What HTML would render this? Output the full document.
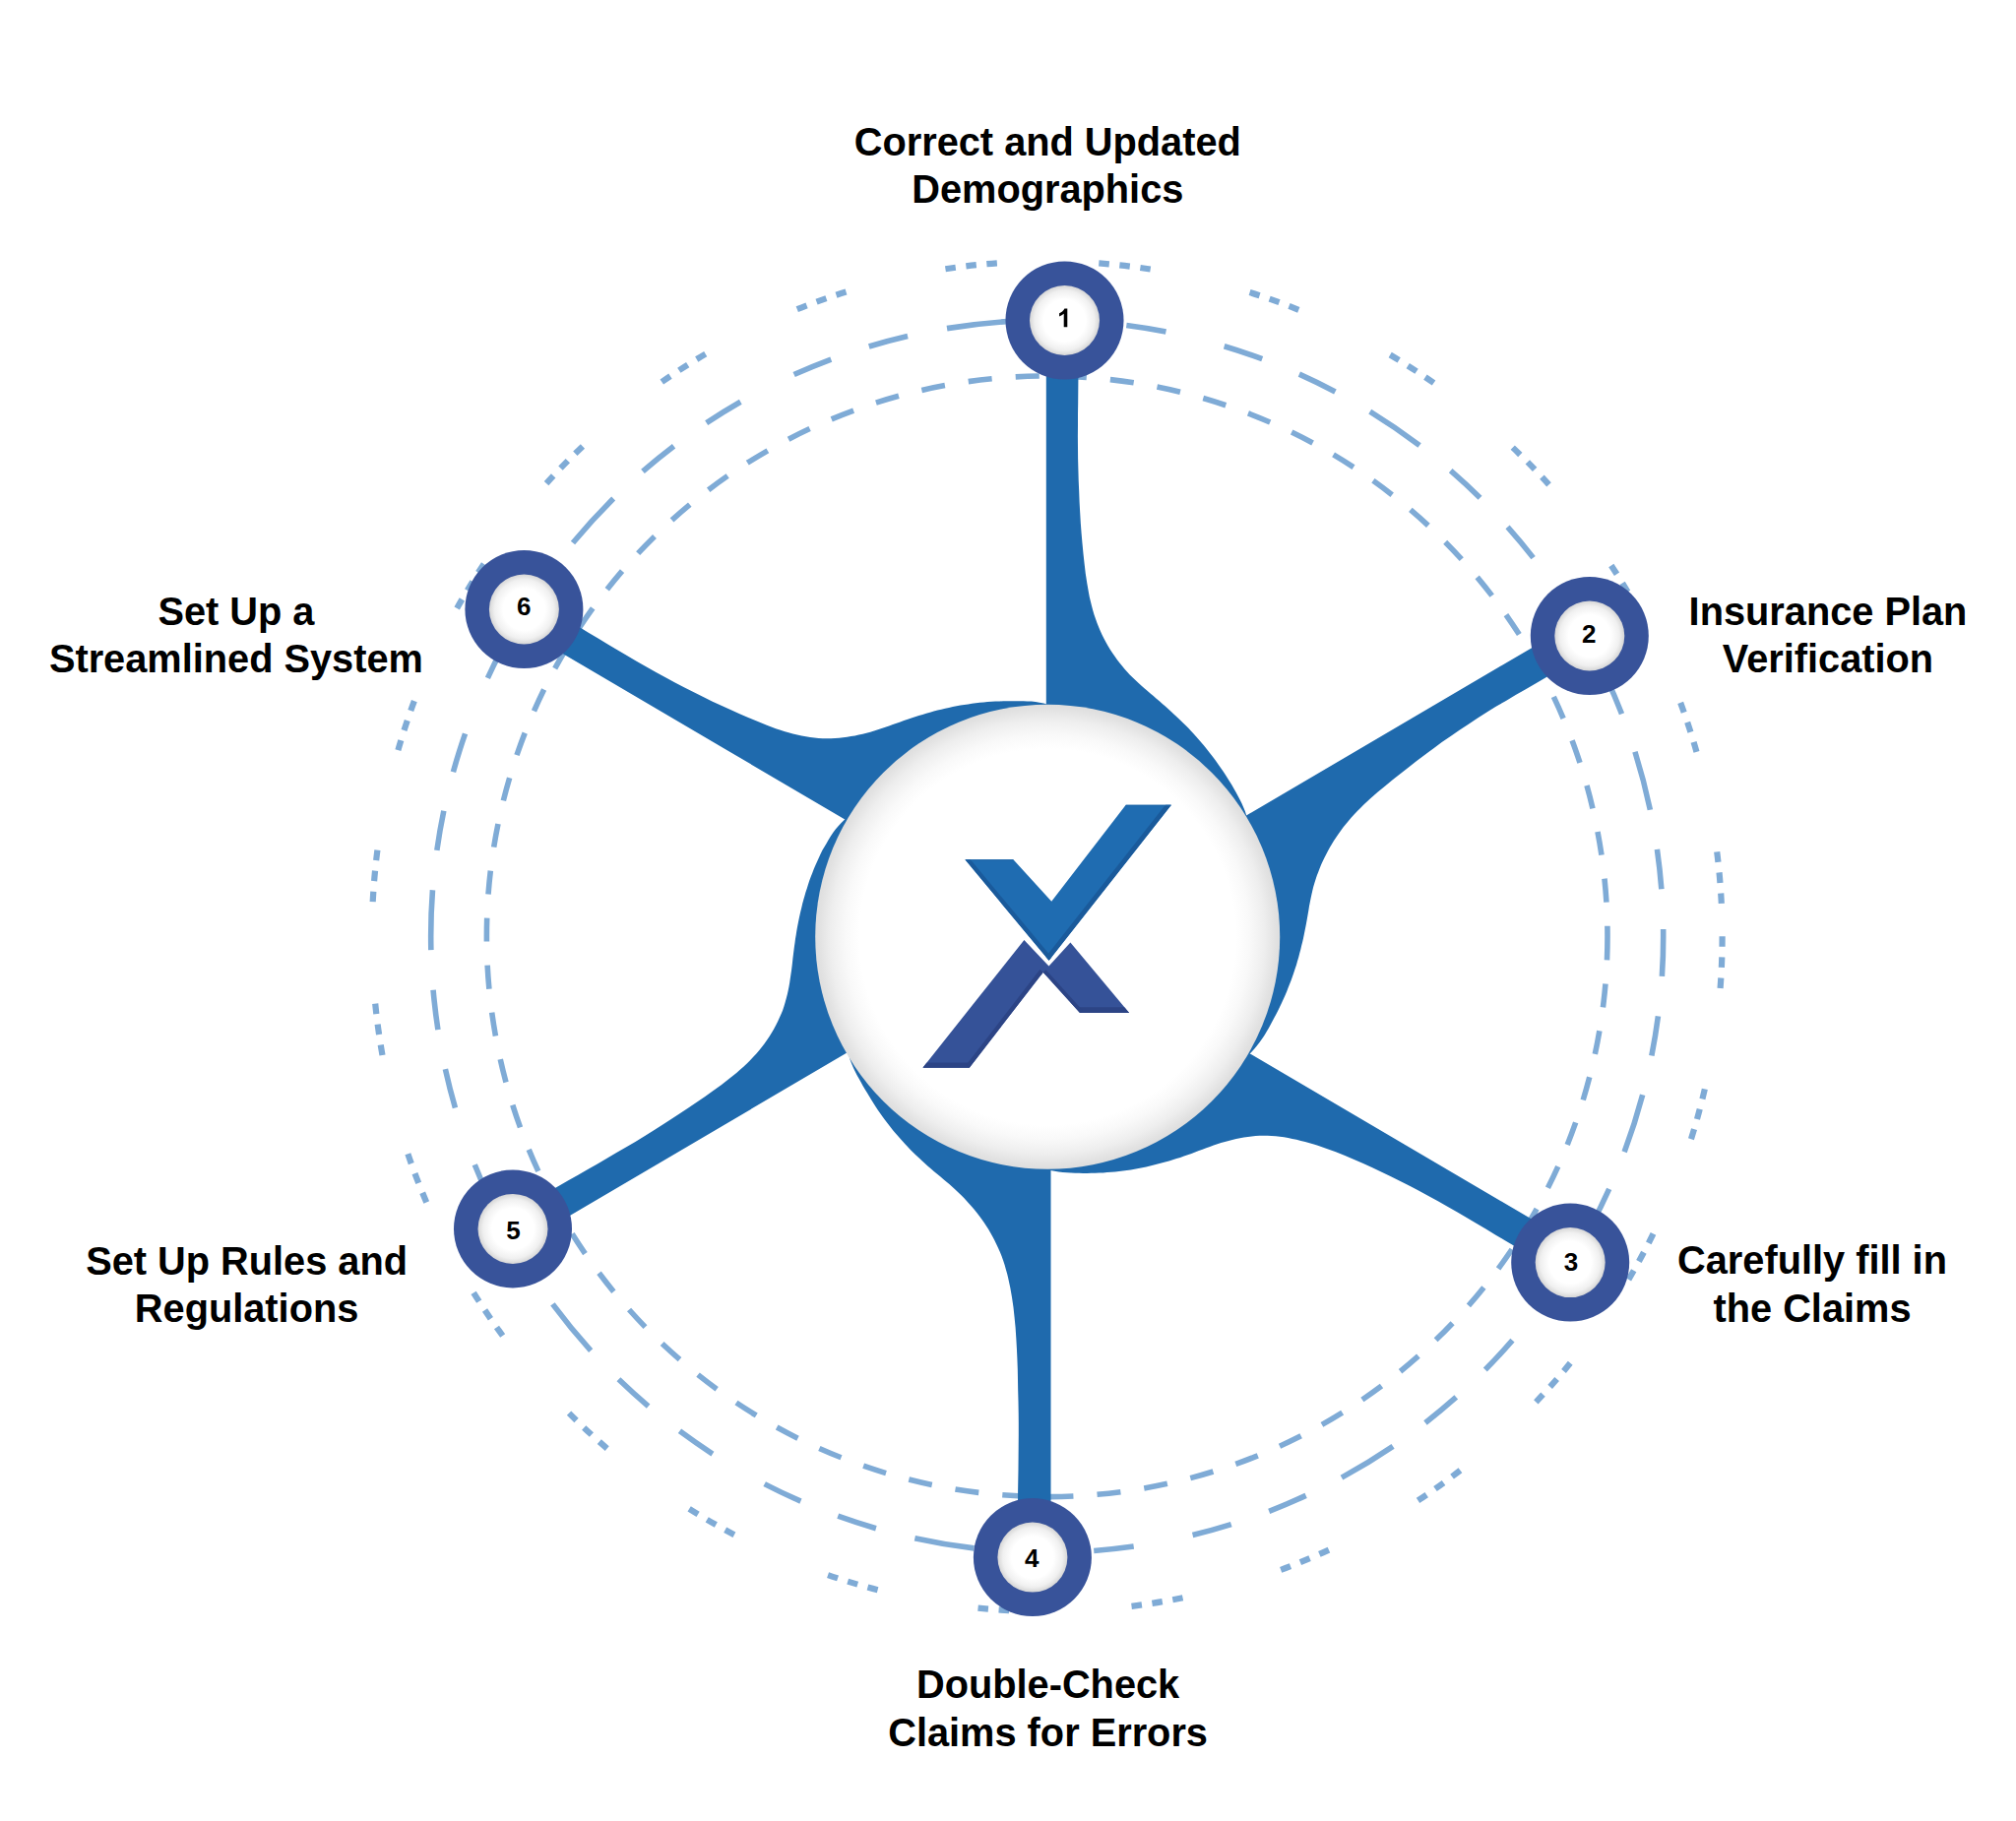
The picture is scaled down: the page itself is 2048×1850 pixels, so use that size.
<!DOCTYPE html>
<html><head><meta charset="utf-8"><title>Diagram</title>
<style>html,body{margin:0;padding:0;background:#fff;}body{width:2048px;height:1850px;overflow:hidden;font-family:"Liberation Sans",sans-serif;}svg{display:block}</style>
</head><body>
<svg width="2048" height="1850" viewBox="0 0 2048 1850">
<defs>
<radialGradient id="gc" cx="50%" cy="50%" r="50%">
<stop offset="0" stop-color="#fff"/><stop offset="0.81" stop-color="#fff"/><stop offset="0.87" stop-color="#f9f9f9"/><stop offset="0.935" stop-color="#eeeeee"/><stop offset="0.98" stop-color="#e2e2e2"/><stop offset="1" stop-color="#dedede"/>
</radialGradient>
<radialGradient id="gn" cx="50%" cy="50%" r="50%">
<stop offset="0" stop-color="#fff"/><stop offset="0.6" stop-color="#fff"/><stop offset="0.85" stop-color="#f0f0f0"/><stop offset="1" stop-color="#d6d6d6"/>
</radialGradient>
</defs>
<rect width="2048" height="1850" fill="#fff"/>
<circle cx="1063.7" cy="951.3" r="569.3" fill="none" stroke="#7fabd6" stroke-width="5.6" stroke-dasharray="24.05 24.14"/>
<circle cx="1063.7" cy="951.3" r="626.0" fill="none" stroke="#7fabd6" stroke-width="5.6" stroke-dasharray="40.68 40.68 40.68 40.68 61.01 40.68 40.68 40.68 40.68 61.01"/>
<circle cx="1063.7" cy="951.3" r="685.9" fill="none" stroke="#7fabd6" stroke-width="6.2" stroke-dasharray="10.5 10.63 10.5 10.63 10.5 103.65"/>
<path d="M1063.9,950.6 L1062.8,889.6 L1062.8,340.1 L1095.8,340.1 L1095.8,351.5 L1095.7,363.0 L1095.6,374.5 L1095.4,386.0 L1095.3,397.5 L1095.2,409.1 L1095.0,420.6 L1095.0,432.1 L1094.9,443.5 L1095.0,454.8 L1095.1,466.1 L1095.4,477.2 L1095.7,488.2 L1096.2,499.2 L1096.6,510.0 L1097.2,520.7 L1097.8,531.2 L1098.6,541.7 L1099.5,552.1 L1100.5,562.4 L1101.6,572.6 L1102.8,582.7 L1104.3,592.6 L1106.0,602.2 L1106.8,606.4 L1107.9,611.1 L1109.0,615.6 L1110.2,620.1 L1111.5,624.5 L1113.0,628.8 L1114.5,633.0 L1116.1,637.1 L1117.8,641.1 L1119.6,645.0 L1121.5,648.8 L1123.5,652.5 L1125.6,656.2 L1127.7,659.7 L1130.0,663.2 L1132.3,666.6 L1134.7,669.9 L1137.2,673.2 L1139.7,676.3 L1142.3,679.4 L1145.0,682.5 L1147.7,685.4 L1150.6,688.3 L1153.5,691.1 L1156.4,693.8 L1159.4,696.5 L1162.5,699.2 L1165.5,701.8 L1168.6,704.4 L1171.7,707.0 L1174.7,709.7 L1177.8,712.3 L1180.8,714.9 L1183.8,717.6 L1186.8,720.3 L1189.8,722.9 L1192.7,725.7 L1195.7,728.4 L1198.6,731.2 L1201.4,733.9 L1204.3,736.8 L1207.1,739.6 L1209.8,742.5 L1212.6,745.5 L1215.3,748.4 L1217.9,751.4 L1220.5,754.5 L1223.1,757.6 L1225.7,760.7 L1228.2,763.9 L1230.6,767.1 L1233.1,770.3 L1235.5,773.6 L1237.9,776.9 L1240.2,780.2 L1242.5,783.6 L1244.8,787.1 L1247.0,790.5 L1249.2,794.0 L1251.4,797.6 L1253.5,801.2 L1255.5,804.8 L1257.5,808.5 L1259.5,812.3 L1261.4,816.1 L1263.1,820.0 L1264.8,824.1 L1266.2,828.4 L1267.4,832.9 L1268.3,837.7 L1063.9,950.6Z" fill="#1f6aad"/>
<path d="M1063.9,950.6 L1114.4,917.6 L1582.1,642.9 L1598.5,671.9 L1588.8,677.6 L1579.1,683.3 L1569.2,689.0 L1559.4,694.7 L1549.5,700.4 L1539.7,706.1 L1529.9,711.9 L1520.1,717.6 L1510.5,723.6 L1501.1,729.6 L1491.8,735.7 L1482.6,741.8 L1473.6,747.9 L1464.7,754.1 L1456.1,760.4 L1447.6,766.7 L1439.2,773.0 L1431.0,779.4 L1423.0,785.7 L1415.0,792.1 L1407.2,798.5 L1399.5,804.8 L1392.1,811.3 L1385.1,817.8 L1382.2,820.7 L1378.9,824.0 L1375.8,827.3 L1372.8,830.6 L1369.9,833.9 L1367.2,837.2 L1364.5,840.5 L1362.0,843.9 L1359.7,847.3 L1357.3,850.7 L1355.1,854.1 L1353.0,857.5 L1350.9,860.9 L1349.0,864.4 L1347.2,868.0 L1345.4,871.5 L1343.7,875.0 L1342.1,878.6 L1340.6,882.3 L1339.2,885.9 L1337.8,889.6 L1336.5,893.4 L1335.4,897.1 L1334.2,900.9 L1333.3,904.8 L1332.4,908.7 L1331.6,912.6 L1330.8,916.6 L1330.0,920.6 L1329.4,924.6 L1328.7,928.6 L1328.0,932.6 L1327.3,936.6 L1326.5,940.7 L1325.7,944.7 L1324.9,948.7 L1324.1,952.7 L1323.2,956.7 L1322.2,960.6 L1321.3,964.6 L1320.2,968.6 L1319.2,972.5 L1318.0,976.4 L1316.9,980.4 L1315.6,984.3 L1314.3,988.2 L1313.0,992.0 L1311.6,995.9 L1310.1,999.7 L1308.6,1003.5 L1307.1,1007.4 L1305.5,1011.2 L1303.8,1014.9 L1302.1,1018.7 L1300.3,1022.5 L1298.5,1026.2 L1296.6,1029.9 L1294.7,1033.6 L1292.7,1037.3 L1290.7,1041.0 L1288.7,1044.7 L1286.6,1048.3 L1284.4,1052.0 L1282.0,1055.6 L1279.5,1059.1 L1276.8,1062.6 L1273.9,1066.1 L1270.7,1069.5 L1267.3,1072.8 L1263.7,1076.0 L1063.9,950.6Z" fill="#1f6aad"/>
<path d="M1063.9,950.6 L1116.3,980.3 L1584.0,1255.0 L1567.9,1283.3 L1558.2,1277.6 L1548.5,1271.9 L1538.7,1266.1 L1528.9,1260.2 L1519.1,1254.4 L1509.4,1248.5 L1499.6,1242.7 L1489.9,1237.0 L1480.1,1231.3 L1470.4,1225.7 L1460.8,1220.2 L1451.1,1214.9 L1441.5,1209.7 L1432.0,1204.7 L1422.5,1199.9 L1413.0,1195.2 L1403.6,1190.7 L1394.2,1186.3 L1384.9,1182.0 L1375.6,1177.9 L1366.3,1174.0 L1357.0,1170.3 L1347.8,1166.9 L1338.7,1163.8 L1334.7,1162.6 L1330.3,1161.2 L1325.9,1160.0 L1321.5,1158.9 L1317.1,1157.8 L1312.8,1156.9 L1308.6,1156.0 L1304.4,1155.3 L1300.2,1154.7 L1296.0,1154.3 L1291.8,1154.0 L1287.7,1153.8 L1283.6,1153.8 L1279.6,1153.8 L1275.5,1154.1 L1271.5,1154.5 L1267.6,1155.0 L1263.6,1155.6 L1259.7,1156.3 L1255.8,1157.0 L1251.9,1157.9 L1248.1,1158.9 L1244.3,1159.9 L1240.4,1161.1 L1236.7,1162.3 L1232.9,1163.6 L1229.1,1164.9 L1225.4,1166.3 L1221.6,1167.7 L1217.9,1169.1 L1214.1,1170.5 L1210.4,1171.9 L1206.6,1173.3 L1202.8,1174.6 L1199.0,1175.9 L1195.2,1177.1 L1191.4,1178.3 L1187.6,1179.4 L1183.7,1180.6 L1179.9,1181.6 L1176.0,1182.6 L1172.2,1183.6 L1168.3,1184.5 L1164.4,1185.4 L1160.5,1186.2 L1156.5,1187.0 L1152.6,1187.7 L1148.7,1188.4 L1144.7,1189.0 L1140.7,1189.5 L1136.8,1190.0 L1132.8,1190.4 L1128.8,1190.8 L1124.7,1191.1 L1120.7,1191.4 L1116.7,1191.6 L1112.6,1191.7 L1108.5,1191.8 L1104.4,1191.9 L1100.3,1191.9 L1096.2,1191.8 L1092.1,1191.7 L1088.0,1191.5 L1083.9,1191.3 L1079.7,1191.0 L1075.5,1190.5 L1071.3,1189.8 L1067.0,1188.9 L1062.6,1187.7 L1058.1,1186.2 L1063.9,950.6Z" fill="#1f6aad"/>
<path d="M1063.9,950.6 L1067.5,1011.7 L1067.5,1561.2 L1033.8,1561.2 L1033.8,1549.8 L1033.9,1538.3 L1034.0,1526.8 L1034.1,1515.3 L1034.3,1503.8 L1034.5,1492.2 L1034.6,1480.7 L1034.7,1469.2 L1034.8,1457.8 L1034.8,1446.5 L1034.7,1435.2 L1034.5,1424.0 L1034.2,1412.9 L1034.0,1402.0 L1033.8,1391.1 L1033.4,1380.4 L1032.9,1369.8 L1032.3,1359.2 L1031.6,1348.8 L1030.6,1338.5 L1029.5,1328.2 L1028.0,1318.1 L1026.3,1308.2 L1024.2,1298.6 L1023.2,1294.3 L1021.9,1289.7 L1020.6,1285.1 L1019.2,1280.7 L1017.6,1276.3 L1015.9,1272.1 L1014.1,1268.0 L1012.2,1263.9 L1010.3,1260.0 L1008.3,1256.2 L1006.2,1252.5 L1004.1,1248.8 L1001.8,1245.3 L999.5,1241.8 L997.2,1238.5 L994.8,1235.2 L992.3,1231.9 L989.7,1228.8 L987.1,1225.7 L984.4,1222.7 L981.7,1219.8 L979.0,1216.8 L976.2,1214.0 L973.3,1211.2 L970.4,1208.4 L967.4,1205.8 L964.4,1203.1 L961.3,1200.5 L958.3,1197.9 L955.2,1195.3 L952.1,1192.8 L949.0,1190.2 L945.9,1187.5 L942.9,1184.9 L939.9,1182.2 L936.9,1179.5 L934.0,1176.8 L931.0,1174.0 L928.1,1171.2 L925.3,1168.4 L922.5,1165.5 L919.7,1162.6 L917.0,1159.6 L914.3,1156.6 L911.7,1153.6 L909.0,1150.5 L906.5,1147.4 L904.0,1144.2 L901.5,1141.0 L899.0,1137.8 L896.6,1134.5 L894.3,1131.2 L892.0,1127.9 L889.7,1124.5 L887.5,1121.0 L885.3,1117.6 L883.2,1114.0 L881.1,1110.5 L878.9,1107.0 L876.8,1103.4 L874.8,1099.8 L872.7,1096.1 L870.7,1092.5 L868.8,1088.7 L867.0,1084.9 L865.3,1080.9 L863.7,1076.9 L862.4,1072.6 L861.2,1068.2 L860.2,1063.4 L1063.9,950.6Z" fill="#1f6aad"/>
<path d="M1063.9,950.6 L1011.6,980.7 L544.0,1255.4 L528.1,1227.5 L537.8,1221.8 L547.7,1216.2 L557.5,1210.6 L567.4,1204.9 L577.3,1199.3 L587.2,1193.7 L597.1,1188.0 L606.9,1182.4 L616.6,1176.7 L626.3,1171.1 L635.9,1165.5 L645.4,1159.9 L654.7,1154.2 L663.9,1148.5 L672.9,1142.8 L681.8,1137.0 L690.6,1131.3 L699.3,1125.6 L707.8,1119.8 L716.3,1114.0 L724.6,1108.1 L732.7,1102.2 L740.6,1096.1 L748.2,1090.0 L751.5,1087.1 L755.0,1083.9 L758.5,1080.7 L761.8,1077.4 L765.0,1074.0 L768.1,1070.7 L771.1,1067.2 L773.9,1063.7 L776.6,1060.2 L779.2,1056.6 L781.6,1052.9 L783.9,1049.3 L786.1,1045.5 L788.1,1041.8 L790.0,1038.0 L791.8,1034.1 L793.5,1030.3 L795.1,1026.4 L796.4,1022.4 L797.6,1018.4 L798.7,1014.4 L799.8,1010.3 L800.7,1006.3 L801.5,1002.2 L802.2,998.2 L802.8,994.1 L803.4,990.0 L804.0,986.0 L804.5,981.9 L805.0,977.8 L805.4,973.8 L805.9,969.8 L806.4,965.8 L806.9,961.7 L807.5,957.7 L808.0,953.7 L808.7,949.7 L809.3,945.7 L810.0,941.8 L810.8,937.8 L811.6,933.8 L812.4,929.9 L813.3,925.9 L814.3,922.0 L815.2,918.0 L816.3,914.1 L817.4,910.2 L818.5,906.3 L819.8,902.4 L821.0,898.5 L822.3,894.6 L823.7,890.8 L825.2,886.9 L826.7,883.1 L828.3,879.3 L830.0,875.5 L831.7,871.7 L833.4,867.9 L835.3,864.1 L837.4,860.5 L839.5,856.9 L841.6,853.2 L843.9,849.6 L846.2,846.1 L848.8,842.6 L851.6,839.2 L854.6,835.9 L857.9,832.8 L861.3,829.4 L864.9,826.2 L1063.9,950.6Z" fill="#1f6aad"/>
<path d="M1063.9,950.6 L1010.8,922.1 L543.1,647.3 L558.9,619.5 L568.6,625.2 L578.3,631.0 L588.1,636.8 L597.8,642.7 L607.6,648.6 L617.4,654.4 L627.1,660.3 L636.9,666.0 L646.6,671.7 L656.3,677.3 L666.0,682.8 L675.7,688.1 L685.3,693.2 L694.9,698.3 L704.4,703.1 L713.9,707.8 L723.3,712.4 L732.7,716.8 L742.1,721.0 L751.4,725.2 L760.7,729.2 L769.9,733.0 L779.0,736.8 L788.1,740.2 L792.1,741.6 L796.6,743.0 L801.1,744.3 L805.5,745.5 L809.9,746.6 L814.3,747.5 L818.7,748.3 L823.0,749.0 L827.3,749.5 L831.5,749.9 L835.8,750.2 L840.0,750.3 L844.1,750.3 L848.3,750.0 L852.4,749.7 L856.4,749.3 L860.5,748.8 L864.5,748.1 L868.5,747.4 L872.4,746.6 L876.3,745.7 L880.2,744.7 L884.1,743.7 L888.0,742.6 L891.8,741.3 L895.6,740.1 L899.4,738.8 L903.2,737.4 L907.0,736.1 L910.8,734.7 L914.5,733.4 L918.3,732.1 L922.1,730.7 L925.8,729.5 L929.6,728.2 L933.4,727.0 L937.2,725.9 L941.0,724.8 L944.8,723.7 L948.7,722.6 L952.5,721.6 L956.3,720.7 L960.2,719.8 L964.0,718.9 L967.9,718.1 L971.8,717.3 L975.7,716.6 L979.6,716.0 L983.5,715.4 L987.4,714.8 L991.3,714.3 L995.3,713.8 L999.3,713.5 L1003.2,713.1 L1007.2,712.8 L1011.2,712.6 L1015.3,712.4 L1019.3,712.3 L1023.3,712.2 L1027.4,712.2 L1031.5,712.2 L1035.6,712.2 L1039.7,712.2 L1043.7,712.4 L1047.8,712.6 L1051.9,713.1 L1056.0,713.7 L1060.2,714.6 L1064.5,715.7 L1068.9,717.2 L1063.9,950.6Z" fill="#1f6aad"/>
<circle cx="1064.2" cy="951.8" r="236.0" fill="url(#gc)"/>
<clipPath id="cb"><polygon points="937.4,1084.7 1040.4,954.9 1065.5,981.5 1087.4,957.4 1147.1,1029.0 1097.0,1029.0 1059.7,987.7 984.8,1084.7"/></clipPath><clipPath id="ct"><polygon points="980.4,873.3 1029.4,873.3 1068.2,915.8 1143.7,817.8 1189.9,817.8 1065.6,975.8"/></clipPath>
<polygon points="937.4,1084.7 1040.4,954.9 1065.5,981.5 1087.4,957.4 1147.1,1029.0 1097.0,1029.0 1059.7,987.7 984.8,1084.7" fill="#355298"/>
<line x1="937.4" y1="1084.7" x2="984.8" y2="1084.7" stroke="#2c4485" stroke-width="10.5" clip-path="url(#cb)"/>
<line x1="1097.0" y1="1029.0" x2="1147.1" y2="1029.0" stroke="#2c4485" stroke-width="11.5" clip-path="url(#cb)"/>
<line x1="984.8" y1="1084.7" x2="1059.7" y2="987.7" stroke="#2c4485" stroke-width="8.5" clip-path="url(#cb)"/>
<line x1="1059.7" y1="987.7" x2="1097.0" y2="1029.0" stroke="#2c4485" stroke-width="7.5" clip-path="url(#cb)"/>
<polygon points="980.4,873.3 1029.4,873.3 1068.2,915.8 1143.7,817.8 1189.9,817.8 1065.6,975.8" fill="#1f6cb1"/>
<line x1="980.4" y1="873.3" x2="1065.6" y2="975.8" stroke="#1a5a9b" stroke-width="8.5" clip-path="url(#ct)"/>
<line x1="1189.9" y1="817.8" x2="1065.6" y2="975.8" stroke="#1a5a9b" stroke-width="9.5" clip-path="url(#ct)"/>
<line x1="980.4" y1="873.3" x2="1029.4" y2="873.3" stroke="#1d64a8" stroke-width="2.0" clip-path="url(#ct)"/>
<line x1="1143.7" y1="817.8" x2="1189.9" y2="817.8" stroke="#1d64a8" stroke-width="2.0" clip-path="url(#ct)"/>
<circle cx="1081.5" cy="325.5" r="60" fill="#38539a"/>
<circle cx="1081.5" cy="325.5" r="35.5" fill="url(#gn)"/>
<path d="M1084.29,332.30 L1080.71,332.30 L1080.71,318.87 Q1078.73,320.70 1076.11,321.59 L1076.11,318.34 Q1077.49,317.88 1079.10,316.61 Q1080.71,315.34 1081.40,313.61 L1084.29,313.61 Z" fill="#000"/>
<circle cx="1614.8" cy="646.0" r="60" fill="#38539a"/>
<circle cx="1614.8" cy="646.0" r="35.5" fill="url(#gn)"/>
<text x="1614.2" y="653.4" text-anchor="middle" font-family="Liberation Sans, sans-serif" font-weight="bold" font-size="26" fill="#000">2</text>
<circle cx="1595.2" cy="1282.6" r="60" fill="#38539a"/>
<circle cx="1595.2" cy="1282.6" r="35.5" fill="url(#gn)"/>
<text x="1595.9" y="1291.3" text-anchor="middle" font-family="Liberation Sans, sans-serif" font-weight="bold" font-size="26" fill="#000">3</text>
<circle cx="1048.9" cy="1582.1" r="60" fill="#38539a"/>
<circle cx="1048.9" cy="1582.1" r="35.5" fill="url(#gn)"/>
<text x="1048.2" y="1591.9" text-anchor="middle" font-family="Liberation Sans, sans-serif" font-weight="bold" font-size="26" fill="#000">4</text>
<circle cx="521.0" cy="1248.4" r="60" fill="#38539a"/>
<circle cx="521.0" cy="1248.4" r="35.5" fill="url(#gn)"/>
<text x="521.6" y="1259.0" text-anchor="middle" font-family="Liberation Sans, sans-serif" font-weight="bold" font-size="26" fill="#000">5</text>
<circle cx="532.4" cy="619.0" r="60" fill="#38539a"/>
<circle cx="532.4" cy="619.0" r="35.5" fill="url(#gn)"/>
<text x="532.2" y="625.4" text-anchor="middle" font-family="Liberation Sans, sans-serif" font-weight="bold" font-size="26" fill="#000">6</text>
<text x="1064.3" y="158.2" text-anchor="middle" font-family="Liberation Sans, sans-serif" font-weight="bold" font-size="39.75" fill="#000">Correct and Updated</text>
<text x="1064.3" y="206.0" text-anchor="middle" font-family="Liberation Sans, sans-serif" font-weight="bold" font-size="39.75" fill="#000">Demographics</text>
<text x="1857.0" y="634.9" text-anchor="middle" font-family="Liberation Sans, sans-serif" font-weight="bold" font-size="39.75" fill="#000">Insurance Plan</text>
<text x="1857.0" y="682.8" text-anchor="middle" font-family="Liberation Sans, sans-serif" font-weight="bold" font-size="39.75" fill="#000">Verification</text>
<text x="1841.0" y="1294.2" text-anchor="middle" font-family="Liberation Sans, sans-serif" font-weight="bold" font-size="39.75" fill="#000">Carefully fill in</text>
<text x="1841.0" y="1343.1" text-anchor="middle" font-family="Liberation Sans, sans-serif" font-weight="bold" font-size="39.75" fill="#000">the Claims</text>
<text x="1064.6" y="1724.9" text-anchor="middle" font-family="Liberation Sans, sans-serif" font-weight="bold" font-size="39.75" fill="#000">Double-Check</text>
<text x="1064.6" y="1773.5" text-anchor="middle" font-family="Liberation Sans, sans-serif" font-weight="bold" font-size="39.75" fill="#000">Claims for Errors</text>
<text x="250.6" y="1294.5" text-anchor="middle" font-family="Liberation Sans, sans-serif" font-weight="bold" font-size="39.75" fill="#000">Set Up Rules and</text>
<text x="250.6" y="1342.6" text-anchor="middle" font-family="Liberation Sans, sans-serif" font-weight="bold" font-size="39.75" fill="#000">Regulations</text>
<text x="239.9" y="635.0" text-anchor="middle" font-family="Liberation Sans, sans-serif" font-weight="bold" font-size="39.75" fill="#000">Set Up a</text>
<text x="239.9" y="683.0" text-anchor="middle" font-family="Liberation Sans, sans-serif" font-weight="bold" font-size="39.75" fill="#000">Streamlined System</text>
</svg>
</body></html>
